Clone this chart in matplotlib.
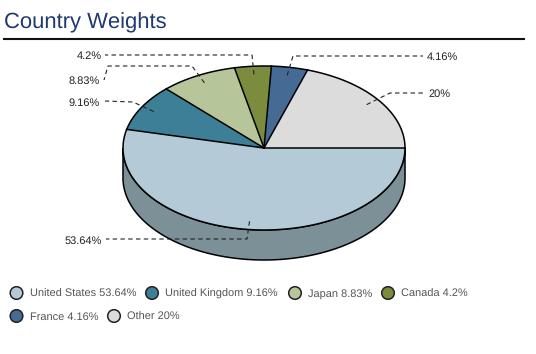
import numpy as np
import matplotlib
matplotlib.use('Agg')
import matplotlib.pyplot as plt
from matplotlib.patches import Wedge, Circle
from matplotlib.transforms import Affine2D

plt.rcParams['font.family'] = ['Liberation Sans', 'DejaVu Sans']
plt.rcParams['text.hinting'] = 'no_hinting'
plt.rcParams['text.hinting_factor'] = 1

# data
countries = ["United States", "United Kingdom", "Japan", "Canada", "France", "Other"]
weights = [53.64, 9.16, 8.83, 4.2, 4.16, 20]
colors = ["#b4cad6", "#3d7f96", "#b7c59b", "#7b8c3e", "#456a94", "#dcdcdc"]
side_color = "#7c9097"

# pie geometry, in pixels
cx, cy = 264, 148
rx, ry = 141, 82
depth = 30

fig = plt.figure(figsize=(5.36, 3.54), dpi=100)
ax = fig.add_axes([0, 0, 1, 1])
ax.set_xlim(0, 536)
ax.set_ylim(354, 0)
ax.axis('off')

# title and rule
ax.text(4, 28, "Country Weights", fontsize=15.6, color="#1f3a70", va='baseline', ha='left')
ax.plot([3, 525], [38.5, 38.5], color="#111111", lw=1.5, solid_capstyle='butt')

# side of the pie (front half only)
t = np.linspace(0, np.pi, 200)
sx = cx + rx * np.cos(t)
sy = cy + ry * np.sin(t)
ax.fill(np.r_[sx, sx[::-1]], np.r_[sy, sy[::-1] + depth], facecolor=side_color,
        edgecolor="black", lw=1.1, zorder=1)

# top of the pie, clockwise from east on screen (y axis is flipped)
to_pixels = Affine2D().scale(rx, ry).translate(cx, cy) + ax.transData
edges = np.r_[0, np.cumsum(weights)] / sum(weights) * 360
for i in range(len(weights)):
    ax.add_patch(Wedge((0, 0), 1, edges[i], edges[i + 1], facecolor=colors[i],
                       edgecolor="none", transform=to_pixels, zorder=2))
    a = np.radians(edges[i])
    ax.plot([cx, cx + rx * np.cos(a)], [cy, cy + ry * np.sin(a)], color="black", lw=1.1,
            zorder=3)
    # the outline arc
    arc = np.linspace(np.radians(edges[i]), np.radians(edges[i + 1]), 80)
    ax.plot(cx + rx * np.cos(arc), cy + ry * np.sin(arc), color="black", lw=1.1, zorder=3)

# leader lines: waypoints after the start on the slice, then label anchor
leaders = [
    [(247, 239), (106, 239)],
    [(133, 102), (105, 101)],
    [(192, 66), (108, 66), (104, 80)],
    [(252, 55), (105, 55)],
    [(293, 56), (423, 56)],
    [(390, 93), (424, 93)],
]
label_xy = [(102, 244), (100, 106), (100, 84), (102, 59), (427, 60), (428, 97)]
label_ha = ['right', 'right', 'right', 'right', 'left', 'left']

mids = (edges[:-1] + edges[1:]) / 2
for i, pts in enumerate(leaders):
    a = np.radians(mids[i])
    start = (cx + 0.9 * rx * np.cos(a), cy + 0.9 * ry * np.sin(a))
    xs = [start[0]] + [p[0] for p in pts]
    ys = [start[1]] + [p[1] for p in pts]
    ax.plot(xs, ys, color="#222222", lw=0.8, ls=(0, (4, 3)), zorder=4)
    ax.text(label_xy[i][0], label_xy[i][1], f"{weights[i]:g}%", fontsize=8.0, color="#222222",
            ha=label_ha[i], va='baseline', zorder=5)

# legend
legend_circle_x = [16.5, 152, 295, 388, 16.5, 114]
legend_y = [293, 293, 293, 293, 316, 316]
for i, c in enumerate(countries):
    ax.add_patch(Circle((legend_circle_x[i], legend_y[i]), 6.3, facecolor=colors[i],
                        edgecolor="#222222", lw=1.1))
    ax.text(legend_circle_x[i] + 13, legend_y[i] + 4, f"{c} {weights[i]:g}%", fontsize=8.1,
            color="#555555", ha='left', va='baseline')

fig.savefig("out.png", dpi=100)
